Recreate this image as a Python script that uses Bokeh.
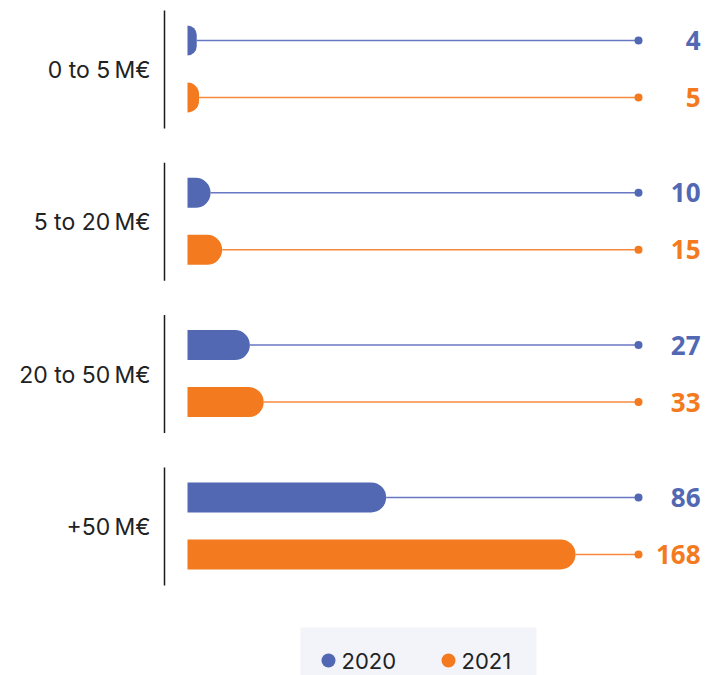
from bokeh.plotting import figure
from bokeh.models import Range1d, ColumnDataSource
from bokeh.core.properties import value
from bokeh.embed import file_html
from bokeh.resources import INLINE

categories = ["0 to 5\u202fM€", "5 to 20\u202fM€", "20 to 50\u202fM€", "+50\u202fM€"]
series = ["2020", "2021"]
values_2020 = [4, 10, 27, 86]
values_2021 = [5, 15, 33, 168]

colors = {"2020": "#5268b3", "2021": "#f47a20"}
line_colors = {"2020": "#6877c4", "2021": "#f78a3c"}

W, H = 705, 675
X0_PX = 187.0
PX_PER_UNIT = 2.31
DOT_PX = 638.0
LINE_END = (DOT_PX - X0_PX) / PX_PER_UNIT

p = figure(width=W, height=H, output_backend="svg", toolbar_location=None,
           x_range=Range1d(-X0_PX / PX_PER_UNIT, (W - X0_PX) / PX_PER_UNIT),
           y_range=Range1d(H, 0), min_border=0,
           x_axis_location=None, y_axis_location=None)
p.extra_x_ranges = {"px": Range1d(0, W)}
p.outline_line_color = None
p.grid.visible = False
p.background_fill_color = "white"

GROUP0 = 40.0
GROUP_STEP = 152.3
SUB_STEP = 57.0

for si, (s, vals) in enumerate([("2020", values_2020), ("2021", values_2021)]):
    ys = [GROUP0 + GROUP_STEP * i + SUB_STEP * si for i in range(len(categories))]
    src = ColumnDataSource(dict(y=ys, v=vals, end=[LINE_END] * len(vals),
                                dot=[DOT_PX] * len(vals), lab=[str(v) for v in vals],
                                lx=[700] * len(vals)))
    p.segment(x0="v", y0="y", x1="end", y1="y", source=src,
              line_color=line_colors[s], line_width=1.5)
    p.hbar(y="y", left=0, right="v", height=30, source=src,
           fill_color=colors[s], line_color=None, border_radius=(0, 15, 15, 0))
    p.scatter(x="dot", y="y", size=8, source=src, x_range_name="px",
              fill_color=colors[s], line_color=None)
    p.text(x="lx", y="y", text="lab", source=src, x_range_name="px",
           text_align="right", text_baseline="middle", text_color=colors[s],
           text_font=value("Open Sans"), text_font_style="bold", text_font_size="26px")

# category separators and labels
sep_y0 = [GROUP0 - 30 + GROUP_STEP * i for i in range(len(categories))]
sep_y1 = [GROUP0 + SUB_STEP + 31 + GROUP_STEP * i for i in range(len(categories))]
p.segment(x0=[164] * 4, y0=sep_y0, x1=[164] * 4, y1=sep_y1, x_range_name="px",
          line_color="#1a1a1a", line_width=1.5)
cat_y = [GROUP0 + SUB_STEP / 2 + 1 + GROUP_STEP * i for i in range(len(categories))]
p.text(x=[150] * 4, y=cat_y, text=categories, x_range_name="px",
       text_align="right", text_baseline="middle", text_color="#222222",
       text_font=value("Inter"), text_font_size="23px")

# legend
p.quad(left=[300], right=[536], top=[627], bottom=[675], x_range_name="px",
       fill_color="#f3f4fa", line_color=None)
p.scatter(x=[328, 448], y=[660, 660], size=14, x_range_name="px",
          fill_color=[colors["2020"], colors["2021"]], line_color=None)
p.text(x=[341, 461], y=[660, 660], text=series, x_range_name="px",
       text_align="left", text_baseline="middle", text_color="#222222",
       text_font=value("Inter"), text_font_size="22px")

open("out.html", "w").write(file_html(p, INLINE))
